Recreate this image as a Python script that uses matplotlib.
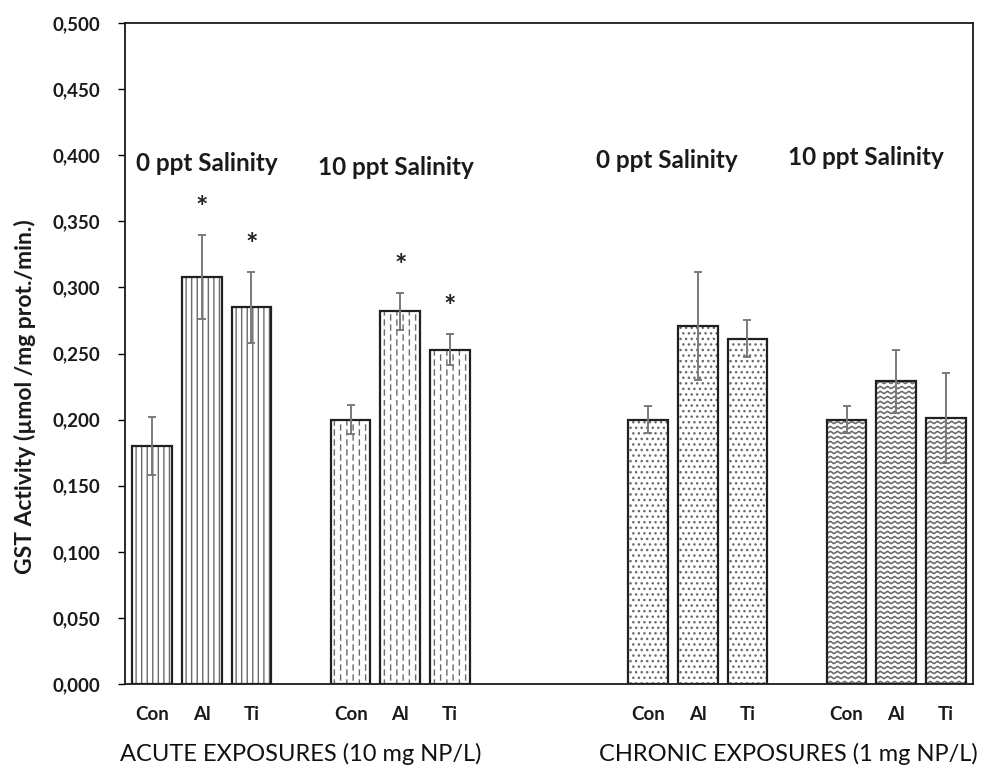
import warnings
import numpy as np
import matplotlib
matplotlib.use("Agg")
import matplotlib.pyplot as plt
import matplotlib.hatch as mhatch
from matplotlib.path import Path
from matplotlib.ticker import FuncFormatter
from matplotlib.transforms import blended_transform_factory

warnings.filterwarnings("ignore")

# ------------------- Daten -------------------
categories = ["Con", "Al", "Ti", "Con", "Al", "Ti", "Con", "Al", "Ti", "Con", "Al", "Ti"]
gst_mean = [0.180, 0.308, 0.285, 0.200, 0.282, 0.253, 0.200, 0.271, 0.261, 0.200, 0.229, 0.201]
gst_err = [0.022, 0.032, 0.027, 0.011, 0.014, 0.012, 0.010, 0.041, 0.014, 0.010, 0.024, 0.034]
significant = [False, True, True, False, True, True, False, False, False, False, False, False]
salinity_labels = ["0 ppt Salinity", "10 ppt Salinity", "0 ppt Salinity", "10 ppt Salinity"]
exposure_labels = ["ACUTE EXPOSURES (10 mg NP/L)", "CHRONIC EXPOSURES (1 mg NP/L)"]
y_ticks = [0.0, 0.05, 0.10, 0.15, 0.20, 0.25, 0.30, 0.35, 0.40, 0.45, 0.50]


# ------------------- eigene Schraffuren (gestrichelt / wellig) -------------------
class DashedVertical(mhatch.HatchPatternBase):
    def __init__(self, hatch, density):
        self.n_cols = hatch.count("k") * 16
        self.n_rows = 10
        self.num_vertices = self.n_cols * self.n_rows * 2

    def set_vertices_and_codes(self, vertices, codes):
        k = 0
        dash = 0.5 / self.n_rows
        for i in range(self.n_cols):
            x = (i + 0.5) / self.n_cols
            for j in range(self.n_rows):
                y0 = (j + 0.5 * (i % 2)) / self.n_rows
                vertices[k] = (x, y0)
                vertices[k + 1] = (x, y0 + dash)
                codes[k] = Path.MOVETO
                codes[k + 1] = Path.LINETO
                k += 2


class Wavy(mhatch.HatchPatternBase):
    def __init__(self, hatch, density):
        self.n_rows = hatch.count("w") * 20
        self.n_pts = 14 * 8 + 1
        self.num_vertices = self.n_rows * self.n_pts

    def set_vertices_and_codes(self, vertices, codes):
        xs = np.linspace(0, 1, self.n_pts)
        amp = 0.012
        k = 0
        for j in range(self.n_rows):
            y = (j + 0.5) / self.n_rows
            vertices[k:k + self.n_pts, 0] = xs
            vertices[k:k + self.n_pts, 1] = y + amp * np.sin(2 * np.pi * 14 * xs)
            codes[k] = Path.MOVETO
            codes[k + 1:k + self.n_pts] = Path.LINETO
            k += self.n_pts


mhatch._hatch_types.append(DashedVertical)
mhatch._hatch_types.append(Wavy)

plt.rcParams["font.family"] = ["Lato", "DejaVu Sans"]
plt.rcParams["hatch.linewidth"] = 1.0

group_hatch = ["|||", "k", "...", "w"]

# Balkenpositionen: 4 Gruppen a 3 Balken, Luecke zwischen akut/chronisch
x_pos = []
for g, start in enumerate([0, 4, 10, 14]):
    x_pos += [start, start + 1, start + 2]
x_pos = np.array(x_pos, dtype=float)

fig = plt.figure(figsize=(9.86, 7.69), dpi=100)
ax = fig.add_axes([0.1268, 0.1105, 0.86, 0.8596])

for g in range(4):
    sl = slice(3 * g, 3 * g + 3)
    ax.bar(x_pos[sl], gst_mean[sl], width=0.8, color="white", edgecolor="#6a6a6a",
           linewidth=0, hatch=group_hatch[g], zorder=2)
    ax.bar(x_pos[sl], gst_mean[sl], width=0.8, fill=False, edgecolor="#202020",
           linewidth=1.6, zorder=3)

ax.errorbar(x_pos, gst_mean, yerr=gst_err, fmt="none", ecolor="#7a7a7a",
            elinewidth=1.4, capsize=3, capthick=1.4, zorder=4)

# Sternchen fuer Signifikanz
for x, m, e, s in zip(x_pos, gst_mean, gst_err, significant):
    if s:
        ax.text(x, m + e + 0.02, "*", ha="center", va="center", fontsize=21,
                fontweight="bold", color="#222222")

# Salinitaet-Beschriftung
sal_x = [1.09, 4.91, 10.38, 14.39]
sal_y = [0.394, 0.391, 0.396, 0.398]
for lab, sx, sy in zip(salinity_labels, sal_x, sal_y):
    ax.text(sx, sy, lab, ha="center", va="center", fontsize=17.5, fontweight="bold",
            color="#1a1a1a")

ax.set_xlim(-0.55, 16.55)
ax.set_ylim(0, 0.5)
ax.set_yticks(y_ticks)
ax.yaxis.set_major_formatter(FuncFormatter(lambda v, p: f"{v:.3f}".replace(".", ",")))
ax.set_xticks(x_pos)
ax.set_xticklabels(categories)
ax.tick_params(axis="x", length=0, pad=16, labelsize=13.5)
ax.tick_params(axis="y", length=5, width=1, pad=13, labelsize=13.5, direction="out")
for lbl in ax.get_xticklabels() + ax.get_yticklabels():
    lbl.set_fontweight("bold")
    lbl.set_color("#1a1a1a")

for sp in ax.spines.values():
    sp.set_linewidth(1.3)
    sp.set_color("#1a1a1a")

ax.set_ylabel("GST Activity (µmol /mg prot./min.)", fontsize=16.5, fontweight="bold",
              color="#1a1a1a")
ax.yaxis.set_label_coords(-0.105, 0.435)

trans = blended_transform_factory(ax.transData, fig.transFigure)
for lab, cx in zip(exposure_labels, [3.0, 12.82]):
    ax.text(cx, 0.019, lab, transform=trans, ha="center", va="center", fontsize=17,
            color="#111111")

fig.savefig("out.png", dpi=100)
